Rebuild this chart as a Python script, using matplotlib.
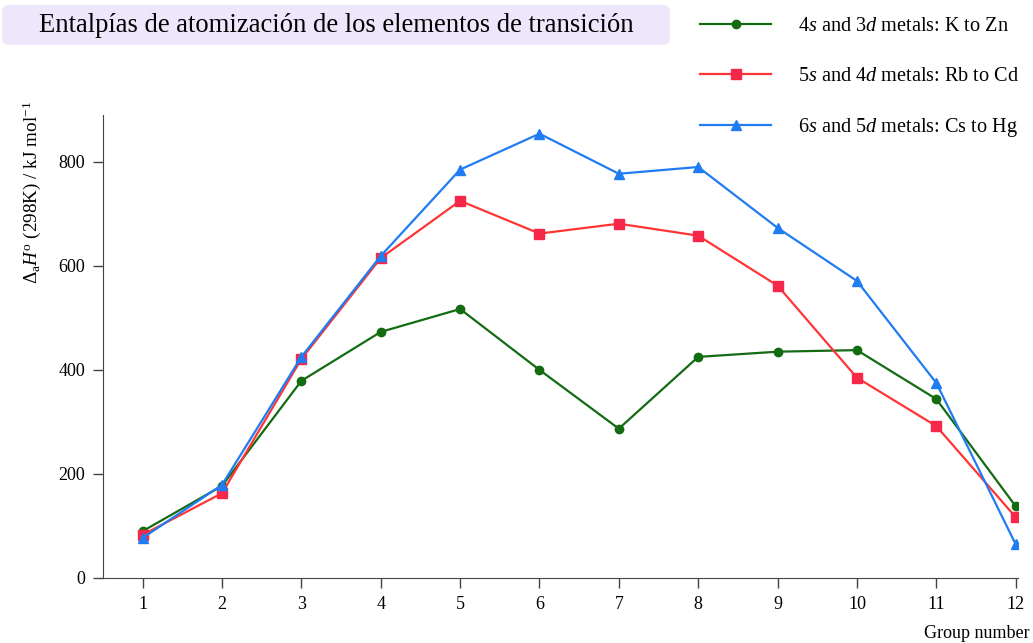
import numpy as np
import matplotlib
matplotlib.use('Agg')
import matplotlib.pyplot as plt
from matplotlib.patches import FancyBboxPatch

plt.rcParams['font.family'] = ['Liberation Serif', 'DejaVu Serif']
plt.rcParams['mathtext.fontset'] = 'custom'
plt.rcParams['mathtext.rm'] = 'Liberation Serif'
plt.rcParams['mathtext.it'] = 'Liberation Serif:italic'

groups = [1, 2, 3, 4, 5, 6, 7, 8, 9, 10, 11, 12]
period4 = [90, 177, 379, 473, 517, 400, 287, 425, 435, 438, 344, 138]
period5 = [83, 163, 421, 615, 725, 662, 681, 658, 562, 385, 292, 117]
period6 = [77, 179, 425, 619, 785, 854, 777, 790, 673, 571, 375, 65]

labels = [r'4$\it{s}$ and 3$\it{d}$ metals: K to Zn',
          r'5$\it{s}$ and 4$\it{d}$ metals: Rb to Cd',
          r'6$\it{s}$ and 5$\it{d}$ metals: Cs to Hg']

fig = plt.figure(figsize=(10.33, 6.43), dpi=100)
ax = fig.add_axes([0.0997, 0.1011, 0.8858, 0.7201])

ax.plot(groups, period4, '-o', color='#136b12', markersize=6, linewidth=1.6, label=labels[0])
ax.plot(groups, period5, '-s', color='#ff3535', markerfacecolor='#f5284a', markeredgecolor='#f5284a',
        markersize=6.5, linewidth=1.6, label=labels[1])
ax.plot(groups, period6, '-^', color='#1f7cf2', markersize=6.5, linewidth=1.6, label=labels[2])

ax.set_xlim(0.5, 12.03)
ax.set_ylim(0, 890)
ax.set_xticks(groups)
ax.set_yticks([0, 200, 400, 600, 800])
ax.tick_params(direction='out', length=7, width=1, color='#444444', labelsize=13, pad=6)
for s in ['top', 'right']:
    ax.spines[s].set_visible(False)
for s in ['left', 'bottom']:
    ax.spines[s].set_color('#444444')

ax.set_ylabel(r'$\Delta_{\mathrm{a}}H^{\mathrm{o}}$ (298K) / kJ mol$^{-1}$', fontsize=13.8)
ax.yaxis.set_label_coords(-0.066, 0.832)
fig.text(1030 / 1033, 1 - 634 / 643, 'Group number', ha='right', va='center', fontsize=13)

fig.legend(loc='upper left', bbox_to_anchor=(682 / 1033, 1 + 1 / 643), frameon=False,
           fontsize=14.6, handlelength=3.5, handletextpad=1.3, labelspacing=1.48)

box = FancyBboxPatch((2 / 1033, 1 - 45 / 643), 668 / 1033, 40 / 643,
                     boxstyle='round,pad=0,rounding_size=0.006', mutation_aspect=1033 / 643,
                     transform=fig.transFigure, facecolor='#eee7fc', edgecolor='none')
fig.patches.append(box)
fig.text(336 / 1033, 1 - 26 / 643, 'Entalpías de atomización de los elementos de transición',
         ha='center', va='center', fontsize=19.2)

fig.savefig('out.png', dpi=100)
